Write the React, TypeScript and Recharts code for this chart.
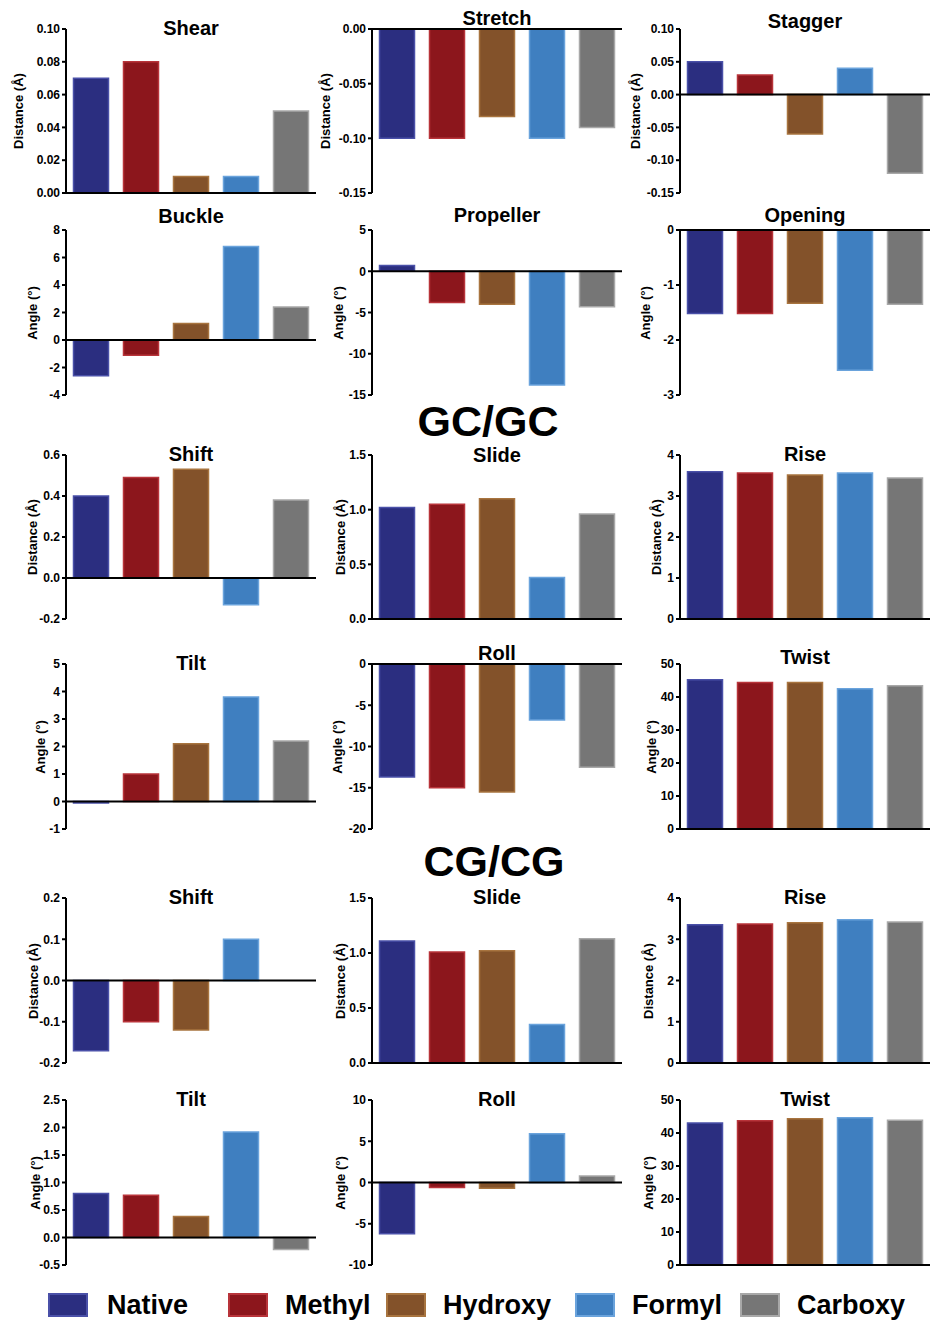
import React from 'react'
import { BarChart, Bar, Cell, XAxis, YAxis, ReferenceLine } from 'recharts'

const FONT = '"Liberation Sans", Arial, Helvetica, sans-serif'

const CATEGORIES = ['Native', 'Methyl', 'Hydroxy', 'Formyl', 'Carboxy']
const COLORS = ['#2b2e80', '#8c161c', '#83522a', '#3f7fc0', '#767676']
const BORDERS = ['#4a50a8', '#b8343a', '#a8743f', '#6aa3dc', '#a8a8a8']

// base-pair parameters (GC/CG)
const shear = [0.07, 0.08, 0.01, 0.01, 0.05]
const stretch = [-0.1, -0.1, -0.08, -0.1, -0.09]
const stagger = [0.05, 0.03, -0.06, 0.04, -0.12]
const buckle = [-2.6, -1.1, 1.2, 6.8, 2.4]
const propeller = [0.7, -3.8, -4.0, -13.8, -4.3]
const opening = [-1.52, -1.52, -1.33, -2.55, -1.35]

// GC/GC step parameters
const gcShift = [0.4, 0.49, 0.53, -0.13, 0.38]
const gcSlide = [1.02, 1.05, 1.1, 0.38, 0.96]
const gcRise = [3.59, 3.56, 3.51, 3.56, 3.44]
const gcTilt = [-0.05, 1.0, 2.1, 3.8, 2.2]
const gcRoll = [-13.7, -15.0, -15.5, -6.8, -12.5]
const gcTwist = [45.2, 44.4, 44.4, 42.5, 43.4]

// CG/CG step parameters
const cgShift = [-0.17, -0.1, -0.12, 0.1, 0]
const cgSlide = [1.11, 1.01, 1.02, 0.35, 1.13]
const cgRise = [3.35, 3.37, 3.4, 3.47, 3.42]
const cgTilt = [0.8, 0.77, 0.38, 1.92, -0.22]
const cgRoll = [-6.2, -0.6, -0.7, 5.9, 0.8]
const cgTwist = [43.0, 43.7, 44.3, 44.6, 43.9]

// tick values
const shearTicks = [0, 0.02, 0.04, 0.06, 0.08, 0.1]
const stretchTicks = [-0.15, -0.1, -0.05, 0]
const staggerTicks = [-0.15, -0.1, -0.05, 0, 0.05, 0.1]
const buckleTicks = [-4, -2, 0, 2, 4, 6, 8]
const propellerTicks = [-15, -10, -5, 0, 5]
const openingTicks = [-3, -2, -1, 0]
const gcShiftTicks = [-0.2, 0, 0.2, 0.4, 0.6]
const slideTicks = [0, 0.5, 1.0, 1.5]
const riseTicks = [0, 1, 2, 3, 4]
const gcTiltTicks = [-1, 0, 1, 2, 3, 4, 5]
const gcRollTicks = [-20, -15, -10, -5, 0]
const twistTicks = [0, 10, 20, 30, 40, 50]
const cgShiftTicks = [-0.2, -0.1, 0, 0.1, 0.2]
const cgTiltTicks = [-0.5, 0, 0.5, 1.0, 1.5, 2.0, 2.5]
const cgRollTicks = [-10, -5, 0, 5, 10]

const DIST = 'Distance (Å)'
const ANGLE = 'Angle (°)'

const ROW_Y = [
  [29, 193],
  [230, 395],
  [455, 619],
  [664, 829],
  [898, 1063],
  [1100, 1265],
]
const COL_X = [66, 372, 680]
const PLOT_W = 250

const panels = [
  { title: 'Shear', values: shear, ticks: shearTicks, dec: 2, unit: DIST, row: 0, col: 0, titleY: 28, labelDx: 48 },
  { title: 'Stretch', values: stretch, ticks: stretchTicks, dec: 2, unit: DIST, row: 0, col: 1, titleY: 18, labelDx: 47 },
  { title: 'Stagger', values: stagger, ticks: staggerTicks, dec: 2, unit: DIST, row: 0, col: 2, titleY: 21, labelDx: 45 },
  { title: 'Buckle', values: buckle, ticks: buckleTicks, dec: 0, unit: ANGLE, row: 1, col: 0, titleY: 216, labelDx: 34 },
  { title: 'Propeller', values: propeller, ticks: propellerTicks, dec: 0, unit: ANGLE, row: 1, col: 1, titleY: 215, labelDx: 34 },
  { title: 'Opening', values: opening, ticks: openingTicks, dec: 0, unit: ANGLE, row: 1, col: 2, titleY: 215, labelDx: 35 },
  { title: 'Shift', values: gcShift, ticks: gcShiftTicks, dec: 1, unit: DIST, row: 2, col: 0, titleY: 454, labelDx: 34 },
  { title: 'Slide', values: gcSlide, ticks: slideTicks, dec: 1, unit: DIST, row: 2, col: 1, titleY: 455, labelDx: 32 },
  { title: 'Rise', values: gcRise, ticks: riseTicks, dec: 0, unit: DIST, row: 2, col: 2, titleY: 454, labelDx: 24 },
  { title: 'Tilt', values: gcTilt, ticks: gcTiltTicks, dec: 0, unit: ANGLE, row: 3, col: 0, titleY: 663, labelDx: 26 },
  { title: 'Roll', values: gcRoll, ticks: gcRollTicks, dec: 0, unit: ANGLE, row: 3, col: 1, titleY: 653, labelDx: 35 },
  { title: 'Twist', values: gcTwist, ticks: twistTicks, dec: 0, unit: ANGLE, row: 3, col: 2, titleY: 657, labelDx: 29 },
  { title: 'Shift', values: cgShift, ticks: cgShiftTicks, dec: 1, unit: DIST, row: 4, col: 0, titleY: 897, labelDx: 33 },
  { title: 'Slide', values: cgSlide, ticks: slideTicks, dec: 1, unit: DIST, row: 4, col: 1, titleY: 897, labelDx: 32 },
  { title: 'Rise', values: cgRise, ticks: riseTicks, dec: 0, unit: DIST, row: 4, col: 2, titleY: 897, labelDx: 32 },
  { title: 'Tilt', values: cgTilt, ticks: cgTiltTicks, dec: 1, unit: ANGLE, row: 5, col: 0, titleY: 1099, labelDx: 31 },
  { title: 'Roll', values: cgRoll, ticks: cgRollTicks, dec: 0, unit: ANGLE, row: 5, col: 1, titleY: 1099, labelDx: 32 },
  { title: 'Twist', values: cgTwist, ticks: twistTicks, dec: 0, unit: ANGLE, row: 5, col: 2, titleY: 1099, labelDx: 32 },
]

const legendPos = [
  [48, 107],
  [228, 285],
  [386, 443],
  [575, 632],
  [740, 797],
]

type PanelDef = (typeof panels)[number]

function Panel({ p }: { p: PanelDef }) {
  const [top, bottom] = ROW_Y[p.row]
  const x0 = COL_X[p.col]
  const data = CATEGORIES.map((name, i) => ({ name, value: p.values[i] }))
  const lo = p.ticks[0]
  const hi = p.ticks[p.ticks.length - 1]

  return (
    <>
      <div style={{ position: 'absolute', left: x0 - 60, top: top - 10 }}>
        <BarChart
          width={60 + PLOT_W + 2}
          height={bottom - top + 20}
          data={data}
          margin={{ top: 10, right: 2, bottom: 10, left: 0 }}
          barCategoryGap="15%"
        >
          <XAxis dataKey="name" hide />
          <YAxis
            width={60}
            domain={[lo, hi]}
            ticks={p.ticks}
            interval={0}
            allowDataOverflow
            tickFormatter={(v: number) => v.toFixed(p.dec)}
            axisLine={{ stroke: '#000', strokeWidth: 2 }}
            tickLine={{ stroke: '#000', strokeWidth: 2 }}
            tickSize={4}
            tick={{ fill: '#000', fontSize: 12, fontWeight: 700, fontFamily: FONT }}
          />
          <Bar dataKey="value" isAnimationActive={false}>
            {data.map((d, i) => (
              <Cell key={d.name} fill={COLORS[i]} stroke={BORDERS[i]} strokeWidth={1.5} />
            ))}
          </Bar>
          <ReferenceLine y={0} stroke="#000" strokeWidth={2} />
        </BarChart>
      </div>
      <div
        style={{
          position: 'absolute',
          left: x0 + PLOT_W / 2,
          top: p.titleY,
          transform: 'translate(-50%, -50%)',
          fontSize: 20,
          fontWeight: 700,
          lineHeight: 1,
          whiteSpace: 'nowrap',
        }}
      >
        {p.title}
      </div>
      <div
        style={{
          position: 'absolute',
          left: x0 - p.labelDx,
          top: (top + bottom) / 2,
          transform: 'translate(-50%, -50%) rotate(-90deg)',
          fontSize: 13,
          fontWeight: 700,
          lineHeight: 1,
          whiteSpace: 'nowrap',
        }}
      >
        {p.unit}
      </div>
    </>
  )
}

const sectionStyle: React.CSSProperties = {
  position: 'absolute',
  transform: 'translate(-50%, -50%)',
  fontSize: 43,
  fontWeight: 700,
  lineHeight: 0.75,
  whiteSpace: 'nowrap',
}

export default function App() {
  return (
    <div
      style={{
        position: 'absolute',
        left: 0,
        top: 0,
        width: 932,
        height: 1320,
        overflow: 'hidden',
        background: '#fff',
        fontFamily: FONT,
        color: '#000',
      }}
    >
      {panels.map((p, i) => (
        <Panel key={i} p={p} />
      ))}
      <div style={{ ...sectionStyle, left: 488, top: 421 }}>GC/GC</div>
      <div style={{ ...sectionStyle, left: 494, top: 861 }}>CG/CG</div>
      {CATEGORIES.map((name, i) => (
        <React.Fragment key={name}>
          <div
            style={{
              position: 'absolute',
              left: legendPos[i][0],
              top: 1293,
              width: 36,
              height: 20,
              background: COLORS[i],
              border: `2px solid ${BORDERS[i]}`,
            }}
          />
          <div
            style={{
              position: 'absolute',
              left: legendPos[i][1],
              top: 1305,
              transform: 'translateY(-50%)',
              fontSize: 27,
              fontWeight: 700,
              lineHeight: 1,
              whiteSpace: 'nowrap',
            }}
          >
            {name}
          </div>
        </React.Fragment>
      ))}
    </div>
  )
}
